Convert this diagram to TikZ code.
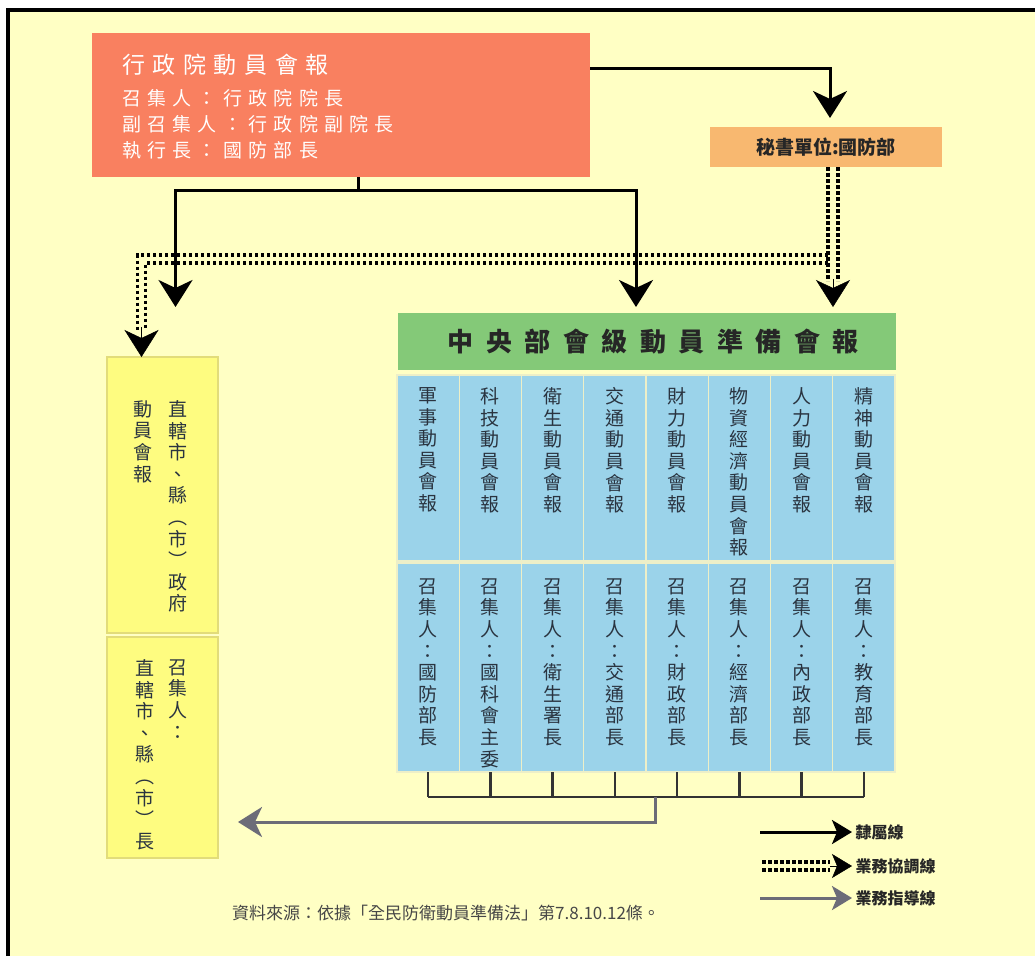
\documentclass[tikz,border=0pt]{standalone}
\usepackage{fontspec}
\newfontfamily\cjk{Noto Sans CJK TC}
\newfontfamily\cjkspaced{Noto Sans CJK TC}[LetterSpace=33]
\newfontfamily\cjkhead{Noto Sans CJK TC}[LetterSpace=48]
\usetikzlibrary{arrows.meta,positioning}

\definecolor{bgyellow}{HTML}{FFFFC4}
\definecolor{cabinetred}{HTML}{F98060}
\definecolor{secorange}{HTML}{F8B870}
\definecolor{headgreen}{HTML}{84C978}
\definecolor{cellblue}{HTML}{9BD3EA}
\definecolor{cellline}{HTML}{EDEFC8}
\definecolor{localyellow}{HTML}{FEFC80}
\definecolor{localline}{HTML}{E2DC7A}
\definecolor{guidegray}{HTML}{6C6C78}
\definecolor{inkdark}{HTML}{2A3440}

\tikzset{
  box/.style={inner sep=0pt, outer sep=0pt, anchor=north west},
  cell/.style={box, fill=cellblue, draw=cellline, line width=1.2pt, minimum width=62.25pt},
  vtxt/.style={anchor=north, align=center, text=inkdark, font=\cjk\fontsize{19}{21.6}\selectfont},
  link/.style={line width=3pt, -{Stealth[length=27pt,width=34pt,inset=8pt]}},
  linksmall/.style={line width=3pt, -{Stealth[length=20pt,width=24pt,inset=5pt]}},
  coord/.style={line width=3.5pt, dash pattern=on 3.5pt off 2.5pt},
  coordtip/.style={line width=0.5pt, -{Stealth[length=27pt,width=34pt,inset=8pt]}},
  guide/.style={guidegray, line width=3pt, -{Stealth[length=24pt,width=30pt,inset=7pt]}},
  tick/.style={line width=2.5pt, draw=black!80},
  legtext/.style={anchor=west, text=black!85, font=\cjk\bfseries\fontsize{16}{18}\selectfont}
}

\begin{document}
\begin{tikzpicture}[x=1pt,y=-1pt,font=\cjk]
\useasboundingbox (0,0) rectangle (1035,956);
\fill[white] (0,0) rectangle (1035,956);
\fill[bgyellow] (8,10) rectangle (1035,956);
\draw[line width=4pt] (8,956) -- (8,10) -- (1035,10);

% top level
\node[box, fill=cabinetred, minimum width=498pt, minimum height=144pt] (cabinet) at (92,33) {};
\node[anchor=west, inner sep=0pt, text=white, font=\cjkspaced\fontsize{23}{26}\selectfont] (cabtitle) at (122,65) {行政院動員會報};
\node[anchor=north west, inner sep=0pt, align=left, text=white, font=\cjkspaced\fontsize{19}{26}\selectfont] (cabmembers) at (122,89) {召集人：行政院院長\\副召集人：行政院副院長\\執行長：國防部長};

\node[box, fill=secorange, minimum width=232pt, minimum height=40pt, font=\cjk\bfseries\fontsize{19}{22}\selectfont, text=black!85] (secretary) at (710,127) {秘書單位:國防部};

% central board and its columns
\node[box, fill=headgreen, minimum width=498pt, minimum height=57pt, font=\cjkhead\bfseries\fontsize{26}{28}\selectfont, text=black!85] (central) at (398,313) {中央部會級動員準備會報\kern-0.48em};

\foreach \i/\ttl/\chair in {
  1/{軍\\事\\動\\員\\會\\報}/{召\\集\\人\\：\\國\\防\\部\\長},
  2/{科\\技\\動\\員\\會\\報}/{召\\集\\人\\：\\國\\科\\會\\主\\委},
  3/{衛\\生\\動\\員\\會\\報}/{召\\集\\人\\：\\衛\\生\\署\\長},
  4/{交\\通\\動\\員\\會\\報}/{召\\集\\人\\：\\交\\通\\部\\長},
  5/{財\\力\\動\\員\\會\\報}/{召\\集\\人\\：\\財\\政\\部\\長},
  6/{物\\資\\經\\濟\\動\\員\\會\\報}/{召\\集\\人\\：\\經\\濟\\部\\長},
  7/{人\\力\\動\\員\\會\\報}/{召\\集\\人\\：\\內\\政\\部\\長},
  8/{精\\神\\動\\員\\會\\報}/{召\\集\\人\\：\\教\\育\\部\\長}} {
  \node[cell, minimum height=186pt] (up\i) at ({397+(\i-1)*62.25},375) {};
  \node[cell, minimum height=209pt] (dn\i) at ({397+(\i-1)*62.25},563) {};
  \node[vtxt] (upt\i) at ([yshift=-9pt]up\i.north) {\ttl};
  \node[vtxt] (dnt\i) at ([yshift=-12pt]dn\i.north) {\chair};
  \draw[tick] (dn\i.south) -- ++(0,25);
}
\draw[tick] ([yshift=-25pt]dn1.south) -- ([yshift=-25pt]dn8.south);

% local governments
\node[box, fill=localyellow, draw=localline, line width=1.2pt, minimum width=111pt, minimum height=276pt] (local) at (107,357) {};
\node[box, fill=localyellow, draw=localline, line width=1.2pt, minimum width=111pt, minimum height=221pt] (localchair) at (107,637) {};
\node[vtxt] (localname) at (178,397) {直\\轄\\市\\、\\縣\\︵\\市\\︶\\政\\府};
\node[vtxt] (localboard) at (143,397) {動\\員\\會\\報};
\node[vtxt] (localchairA) at (178,656) {召\\集\\人\\：};
\node[vtxt] (localchairB) at (145,656) {直\\轄\\市\\、\\縣\\︵\\市\\︶\\長};

% lines of authority
\draw[link, shorten >=9pt] ([yshift=-35pt]cabinet.north east) -| ([xshift=4pt]secretary.north);
\draw[link, shorten >=6pt] ([xshift=17pt]cabinet.south) -- ++(0,13) -| ([xshift=-11pt]central.north);
\draw[link, shorten >=50pt] ([xshift=17pt]cabinet.south) -- ++(0,13) -| ([xshift=13pt]local.north);

% coordination lines
\draw[coord] ([xshift=12pt]secretary.south) -- ++(0,114);
\draw[coord] ([xshift=2pt]secretary.south) -- ++(0,114);
\draw[coord] ([xshift=2pt,yshift=-88pt]secretary.south) -| ([xshift=-25pt,yshift=27pt]local.north);
\draw[coord] ([xshift=2pt,yshift=-96pt]secretary.south) -| ([xshift=-17pt,yshift=27pt]local.north);
\draw[coordtip, shorten >=6pt] ([xshift=7pt,yshift=-112pt]secretary.south) -- ([xshift=7pt]secretary.south |- central.north);
\draw[coordtip] ([xshift=-21pt,yshift=30pt]local.north) -- ([xshift=-21pt]local.north);

% guidance line
\draw[guide, shorten >=20pt] ([xshift=9pt,yshift=-25pt]dn5.south west) |- (localchair.east |- 0,822);

% legend
\node[legtext] (legA) at (852,832) {隸屬線};
\node[legtext] (legB) at (852,866) {業務協調線};
\node[legtext] (legC) at (852,898) {業務指導線};
\draw[linksmall] ([xshift=-92pt]legA.west) -- (legA.west);
\draw[coord] ([xshift=-90pt,yshift=4pt]legB.west) -- ([xshift=-22pt,yshift=4pt]legB.west);
\draw[coord] ([xshift=-90pt,yshift=-4pt]legB.west) -- ([xshift=-22pt,yshift=-4pt]legB.west);
\draw[linksmall, line width=0.5pt] ([xshift=-22pt]legB.west) -- (legB.west);
\draw[linksmall, guidegray] ([xshift=-92pt]legC.west) -- (legC.west);

\node[anchor=west, inner sep=0pt, text=black!72, font=\cjk\fontsize{17}{19}\selectfont] (source) at (232,913) {資料來源：依據「全民防衛動員準備法」第7.8.10.12條。};
\end{tikzpicture}
\end{document}
